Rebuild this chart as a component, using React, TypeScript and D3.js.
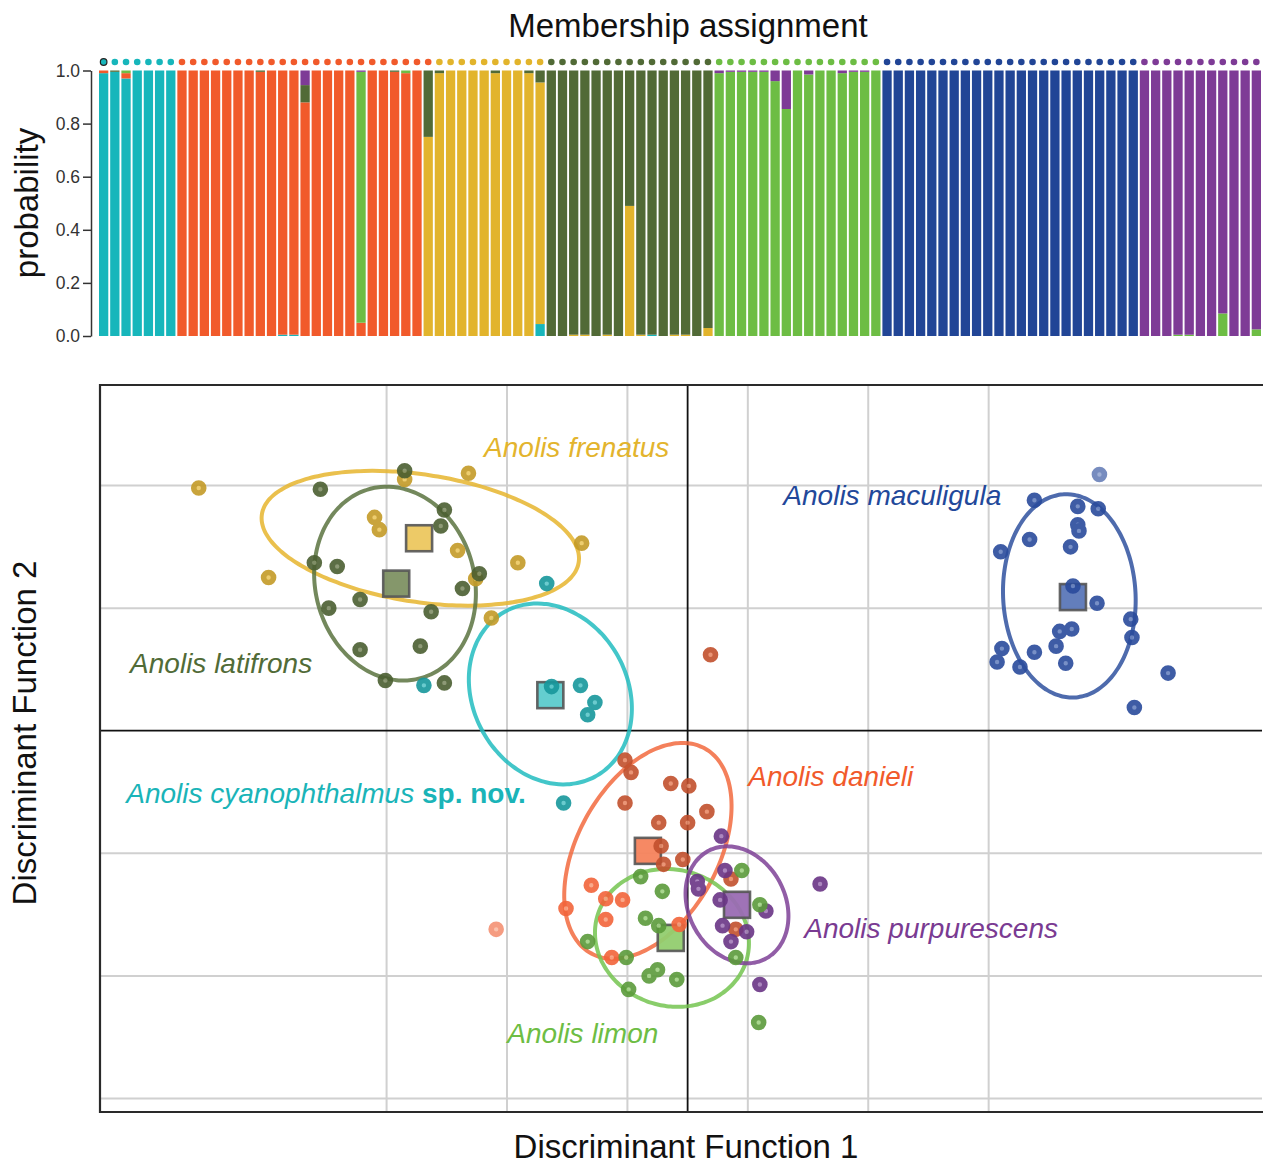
import * as d3 from "d3";
import { useEffect, useRef } from "react";

// ---------- membership assignment (top panel) ----------
// cluster order: cyanophthalmus, danieli, frenatus, latifrons, limon, maculigula, purpurescens
const clusterNames = ["cyanophthalmus", "danieli", "frenatus", "latifrons", "limon", "maculigula", "purpurescens"];
const clusterColors = ["#17b6bb", "#f15a2b", "#e2b42c", "#516a36", "#6dbd44", "#214596", "#7e3b96"];

// posterior probabilities of each individual, grouped by the species it was sampled as
const cyanophthalmusProbs = [
  [0.99, 0.01, 0, 0, 0, 0, 0], [0.995, 0, 0, 0.005, 0, 0, 0], [0.97, 0.02, 0, 0, 0.01, 0, 0],
  [1, 0, 0, 0, 0, 0, 0], [1, 0, 0, 0, 0, 0, 0], [1, 0, 0, 0, 0, 0, 0], [1, 0, 0, 0, 0, 0, 0],
];
const danieliProbs = [
  [0, 1, 0, 0, 0, 0, 0], [0, 1, 0, 0, 0, 0, 0], [0, 1, 0, 0, 0, 0, 0], [0, 1, 0, 0, 0, 0, 0],
  [0, 1, 0, 0, 0, 0, 0], [0, 1, 0, 0, 0, 0, 0], [0, 1, 0, 0, 0, 0, 0], [0, 0.995, 0, 0.005, 0, 0, 0],
  [0, 1, 0, 0, 0, 0, 0], [0.005, 0.995, 0, 0, 0, 0, 0], [0.005, 0.995, 0, 0, 0, 0, 0],
  [0, 0.88, 0, 0.065, 0, 0, 0.055],
  [0, 1, 0, 0, 0, 0, 0], [0, 1, 0, 0, 0, 0, 0], [0, 1, 0, 0, 0, 0, 0], [0, 1, 0, 0, 0, 0, 0],
  [0, 0.05, 0, 0, 0.945, 0, 0.005],
  [0, 1, 0, 0, 0, 0, 0], [0, 1, 0, 0, 0, 0, 0], [0, 0.995, 0, 0.005, 0, 0, 0],
  [0, 0.99, 0, 0, 0.01, 0, 0], [0, 1, 0, 0, 0, 0, 0],
  [0, 0, 0.75, 0.25, 0, 0, 0],
];
const frenatusProbs = [
  [0, 0, 0.99, 0.01, 0, 0, 0], [0, 0, 1, 0, 0, 0, 0], [0, 0, 1, 0, 0, 0, 0], [0, 0, 1, 0, 0, 0, 0],
  [0, 0, 1, 0, 0, 0, 0], [0, 0, 0.99, 0.01, 0, 0, 0], [0, 0, 1, 0, 0, 0, 0], [0, 0, 1, 0, 0, 0, 0],
  [0, 0, 0.99, 0.01, 0, 0, 0], [0.045, 0, 0.91, 0.045, 0, 0, 0],
];
const latifronsProbs = [
  [0, 0, 0, 1, 0, 0, 0], [0, 0, 0, 1, 0, 0, 0], [0, 0, 0.005, 0.995, 0, 0, 0], [0, 0, 0.005, 0.995, 0, 0, 0],
  [0, 0, 0, 1, 0, 0, 0], [0, 0, 0.005, 0.995, 0, 0, 0], [0, 0, 0, 1, 0, 0, 0],
  [0, 0, 0.49, 0.51, 0, 0, 0],
  [0, 0, 0.005, 0.995, 0, 0, 0], [0.005, 0, 0, 0.995, 0, 0, 0], [0, 0, 0, 1, 0, 0, 0],
  [0, 0, 0.005, 0.995, 0, 0, 0], [0, 0, 0.005, 0.995, 0, 0, 0], [0, 0, 0, 1, 0, 0, 0],
  [0, 0, 0.03, 0.97, 0, 0, 0],
];
const limonProbs = [
  [0, 0, 0, 0, 0.99, 0, 0.01], [0, 0, 0, 0, 0.995, 0, 0.005], [0, 0, 0, 0, 0.995, 0, 0.005],
  [0, 0, 0, 0, 0.995, 0, 0.005], [0, 0, 0, 0, 0.995, 0, 0.005],
  [0, 0, 0, 0, 0.96, 0, 0.04], [0, 0, 0, 0, 0.855, 0, 0.145],
  [0, 0, 0, 0, 1, 0, 0], [0, 0, 0, 0, 0.985, 0, 0.015], [0, 0, 0, 0, 1, 0, 0],
  [0, 0, 0, 0, 1, 0, 0], [0, 0, 0, 0, 0.99, 0, 0.01], [0, 0, 0, 0, 0.995, 0, 0.005],
  [0, 0, 0, 0, 0.995, 0, 0.005], [0, 0, 0, 0, 1, 0, 0],
];
const maculigulaProbs = [
  [0, 0, 0, 0, 0, 1, 0], [0, 0, 0, 0, 0, 1, 0], [0, 0, 0, 0, 0, 1, 0], [0, 0, 0, 0, 0, 1, 0],
  [0, 0, 0, 0, 0, 1, 0], [0, 0, 0, 0, 0, 1, 0], [0, 0, 0, 0, 0, 1, 0], [0, 0, 0, 0, 0, 1, 0],
  [0, 0, 0, 0, 0, 1, 0], [0, 0, 0, 0, 0, 1, 0], [0, 0, 0, 0, 0, 1, 0], [0, 0, 0, 0, 0, 1, 0],
  [0, 0, 0, 0, 0, 1, 0], [0, 0, 0, 0, 0, 1, 0], [0, 0, 0, 0, 0, 1, 0], [0, 0, 0, 0, 0, 1, 0],
  [0, 0, 0, 0, 0, 1, 0], [0, 0, 0, 0, 0, 1, 0], [0, 0, 0, 0, 0, 1, 0], [0, 0, 0, 0, 0, 1, 0],
  [0, 0, 0, 0, 0, 1, 0], [0, 0, 0, 0, 0, 1, 0], [0, 0, 0, 0, 0, 1, 0],
];
const purpurescensProbs = [
  [0, 0, 0, 0, 0, 0, 1], [0, 0, 0, 0, 0, 0, 1], [0, 0, 0, 0, 0, 0, 1],
  [0, 0, 0, 0, 0.005, 0, 0.995], [0, 0, 0, 0, 0.005, 0, 0.995],
  [0, 0, 0, 0, 0, 0, 1], [0, 0, 0, 0, 0, 0, 1],
  [0, 0, 0, 0, 0.085, 0, 0.915],
  [0, 0, 0, 0, 0, 0, 1], [0, 0, 0, 0, 0, 0, 1],
  [0, 0, 0, 0, 0.025, 0, 0.975],
];
const probabilityTicks = [0, 0.2, 0.4, 0.6, 0.8, 1.0];

// ---------- discriminant analysis (bottom panel) ----------
const frenatusPts = [[-4.06, 1.98], [-2.35, 2.05], [-1.82, 2.1], [-2.6, 1.74], [-2.56, 1.64], [-1.91, 1.47], [-1.41, 1.37], [-0.88, 1.53], [-3.48, 1.25], [-1.76, 1.24], [-1.63, 0.92]];
const latifronsPts = [[-2.35, 2.12], [-3.05, 1.97], [-2.02, 1.8], [-2.05, 1.67], [-3.1, 1.37], [-2.91, 1.34], [-1.73, 1.28], [-1.87, 1.16], [-2.72, 1.07], [-2.98, 1.0], [-2.13, 0.97], [-2.72, 0.66], [-2.22, 0.69], [-2.51, 0.41], [-2.02, 0.39]];
const cyanophthalmusPts = [[-1.17, 1.2], [-2.19, 0.37], [-1.13, 0.36], [-0.89, 0.37], [-0.77, 0.23], [-0.83, 0.13], [-1.03, -0.59]];
const maculigulaPts = [[3.42, 2.09], [2.88, 1.88], [3.24, 1.83], [3.41, 1.81], [3.24, 1.68], [3.25, 1.63], [2.84, 1.56], [3.18, 1.5], [2.6, 1.46], [3.2, 1.18], [3.4, 1.04], [3.68, 0.91], [3.09, 0.81], [3.19, 0.83], [3.69, 0.76], [3.06, 0.69], [2.61, 0.67], [2.88, 0.64], [2.57, 0.56], [3.14, 0.55], [2.76, 0.52], [3.99, 0.47], [3.71, 0.19]];
const danieliPts = [[-0.52, -0.24], [-0.47, -0.34], [-0.14, -0.43], [0.01, -0.45], [-0.52, -0.59], [0.16, -0.66], [-0.24, -0.75], [0.0, -0.75], [-0.22, -0.94], [-0.04, -1.05], [-0.2, -1.09], [0.36, -1.21], [0.4, -1.62], [0.19, 0.62]];
const danieliPts2 = [[-0.8, -1.26], [-0.68, -1.37], [-0.54, -1.38], [-1.01, -1.45], [-0.68, -1.54], [-0.07, -1.58], [-0.63, -1.85], [-1.59, -1.62]];
const limonPts = [[-0.39, -1.19], [-0.21, -1.31], [0.45, -1.14], [0.6, -1.42], [-0.35, -1.53], [-0.24, -1.59], [-0.83, -1.72], [-0.51, -1.85], [-0.25, -1.95], [-0.32, -2.0], [-0.09, -2.03], [-0.49, -2.11], [0.4, -1.85], [0.59, -2.38]];
const purpurescensPts = [[0.28, -0.86], [0.31, -1.14], [0.08, -1.23], [0.09, -1.29], [0.27, -1.38], [0.65, -1.47], [0.29, -1.59], [0.49, -1.64], [0.36, -1.72], [1.1, -1.25], [0.6, -2.07]];

// group centroids [x, y]
const centroids = {
  frenatus: [-2.23, 1.57], latifrons: [-2.42, 1.2], cyanophthalmus: [-1.14, 0.29], maculigula: [3.2, 1.09],
  danieli: [-0.33, -0.98], limon: [-0.14, -1.69], purpurescens: [0.41, -1.42],
};
// confidence ellipses [cx, cy, semi-major, semi-minor, angle in degrees]
const ellipses = {
  frenatus: [-2.22, 1.57, 1.33, 0.52, -8.4], latifrons: [-2.43, 1.2, 0.8, 0.66, -74],
  cyanophthalmus: [-1.14, 0.3, 0.77, 0.64, -59], maculigula: [3.17, 1.1, 0.83, 0.55, -87],
  danieli: [-0.33, -0.98, 0.96, 0.58, 60], limon: [-0.13, -1.69, 0.645, 0.556, -15],
  purpurescens: [0.41, -1.42, 0.5, 0.4, -60],
};
const xGridTicks = [-2.5, -1.5, -0.5, 0.5, 1.5, 2.5];
const yGridTicks = [2, 1, -1, -2, -3];

const FONT = "'Liberation Sans', Arial, Helvetica, sans-serif";

const pointStyle = {
  frenatus: { stroke: "#c49b27", fill: "#ecc860" },
  latifrons: { stroke: "#4b5f31", fill: "#818f68" },
  cyanophthalmus: { stroke: "#17979c", fill: "#5cc6c9" },
  maculigula: { stroke: "#2a4b9c", fill: "#6a84c0" },
  danieli: { stroke: "#c2502d", fill: "#e88a68" },
  danieli2: { stroke: "#f2643a", fill: "#f9a07f" },
  limon: { stroke: "#5b9b3b", fill: "#a0d283" },
  purpurescens: { stroke: "#6a3586", fill: "#a27ab8" },
};
const groupStyle = {
  frenatus: { line: "#e6b52e", box: "#ecc75f" },
  latifrons: { line: "#5a7340", box: "#7e9163" },
  cyanophthalmus: { line: "#22bcc0", box: "#5ccbcc" },
  maculigula: { line: "#2f519f", box: "#5b77b8" },
  danieli: { line: "#f26a3e", box: "#f5835c" },
  limon: { line: "#74c450", box: "#92cd6f" },
  purpurescens: { line: "#7e4196", box: "#9a6cb3" },
};

const App = () => {
  const width = 1263,
    height = 1165;

  // ---- top panel ----
  const groups = [
    cyanophthalmusProbs, danieliProbs, frenatusProbs, latifronsProbs, limonProbs, maculigulaProbs, purpurescensProbs,
  ];
  const individuals = groups.flatMap((g, gi) => g.map((p) => ({ group: gi, p })));
  const bx = d3
    .scaleBand()
    .domain(d3.range(individuals.length))
    .range([99, 1261])
    .paddingInner(0.17);
  const by = d3.scaleLinear([0, 1], [336, 70.5]);
  const series = d3
    .stack()
    .keys(d3.range(clusterNames.length))
    .value((d, k) => d.p[k])(individuals);

  const gy = useRef();
  useEffect(() => {
    const g = d3.select(gy.current);
    g.call(
      d3
        .axisLeft(by)
        .tickValues(probabilityTicks)
        .tickFormat(d3.format(".1f"))
        .tickSize(8)
        .tickSizeOuter(0)
        .tickPadding(3),
    );
    g.attr("font-family", FONT).attr("font-size", 17.5);
    g.selectAll("text").attr("fill", "#333");
    g.selectAll("line").attr("stroke", "#333").attr("stroke-width", 1.5);
    g.select(".domain").attr("stroke", "#333").attr("stroke-width", 1.5);
  }, [by]);

  // ---- bottom panel ----
  const x = d3.scaleLinear([-4.88, 4.77], [100, 1262]);
  const y = d3.scaleLinear([-3.11, 2.82], [1112, 385]);
  const ellipsePath = ([cx, cy, a, b, deg]) => {
    const phi = (deg * Math.PI) / 180;
    const pts = d3.range(0, 360, 3).map((t) => {
      const r = (t * Math.PI) / 180;
      const ex = a * Math.cos(r),
        ey = b * Math.sin(r);
      return [cx + ex * Math.cos(phi) - ey * Math.sin(phi), cy + ex * Math.sin(phi) + ey * Math.cos(phi)];
    });
    return d3
      .line()
      .x((d) => x(d[0]))
      .y((d) => y(d[1]))
      .curve(d3.curveCardinalClosed)(pts);
  };

  const pointSets = [
    ["frenatus", frenatusPts],
    ["latifrons", latifronsPts],
    ["cyanophthalmus", cyanophthalmusPts],
    ["maculigula", maculigulaPts],
    ["danieli", danieliPts],
    ["danieli2", danieliPts2],
    ["purpurescens", purpurescensPts],
    ["limon", limonPts],
  ];

  const labels = [
    { text: "Anolis frenatus", key: "frenatus", at: [-1.69, 2.235], color: "#e3b42d" },
    { text: "Anolis maculigula", key: "maculigula", at: [0.795, 1.843], color: "#22489a" },
    { text: "Anolis latifrons", key: "latifrons", at: [-4.63, 0.473], color: "#516b37" },
    { text: "Anolis danieli", key: "danieli", at: [0.504, -0.449], color: "#f15a2b" },
    { text: "Anolis purpurescens", key: "purpurescens", at: [0.969, -1.688], color: "#7a3b92" },
    { text: "Anolis limon", key: "limon", at: [-1.497, -2.545], color: "#6dbd44" },
  ];
  const boxSize = 26;

  return (
    <svg width={width} height={height} style={{ position: "absolute", left: 0, top: 0, background: "#fff" }} fontFamily={FONT}>
      {/* ---------------- top panel ---------------- */}
      <text x={688} y={37} textAnchor="middle" fontSize={33} fill="#111">
        Membership assignment
      </text>
      <text transform="translate(38,203) rotate(-90)" textAnchor="middle" fontSize={33} fill="#111">
        probability
      </text>
      <g ref={gy} transform="translate(91,0)" />
      <g>
        {series.map((s, k) => (
          <g key={k} fill={clusterColors[k]}>
            {s.map((d, i) =>
              d[1] - d[0] > 0 ? (
                <rect
                  key={i}
                  x={bx(i)}
                  width={bx.bandwidth()}
                  y={by(d[1])}
                  height={Math.max(0.6, by(d[0]) - by(d[1]))}
                />
              ) : null,
            )}
          </g>
        ))}
      </g>
      <g>
        {individuals.map((d, i) => (
          <circle
            key={i}
            cx={bx(i) + bx.bandwidth() / 2}
            cy={62}
            r={3.3}
            fill={clusterColors[d.group]}
            stroke={i === 0 ? "#222" : "none"}
            strokeWidth={1.2}
          />
        ))}
      </g>

      {/* ---------------- bottom panel ---------------- */}
      <g stroke="#d0d0d0" strokeWidth={2}>
        {xGridTicks.map((t) => (
          <line key={"gx" + t} x1={x(t)} x2={x(t)} y1={385} y2={1112} />
        ))}
        {yGridTicks.map((t) => (
          <line key={"gy" + t} x1={100} x2={1262} y1={y(t)} y2={y(t)} />
        ))}
      </g>
      <g stroke="#111" strokeWidth={1.8}>
        <line x1={x(0)} x2={x(0)} y1={385} y2={1112} />
        <line x1={100} x2={1262} y1={y(0)} y2={y(0)} />
      </g>
      <g stroke="#2a2a2a" strokeWidth={2.2} fill="none">
        <path d={`M1263,385 H100 V1112 H1263`} />
      </g>

      <g fill="none" strokeWidth={4} strokeOpacity={0.85}>
        {Object.entries(ellipses).map(([k, e]) => (
          <path key={k} d={ellipsePath(e)} stroke={groupStyle[k].line} />
        ))}
      </g>

      <g>
        {Object.entries(centroids).map(([k, c]) => (
          <rect
            key={k}
            x={x(c[0]) - boxSize / 2}
            y={y(c[1]) - boxSize / 2}
            width={boxSize}
            height={boxSize}
            fill={groupStyle[k].box}
            fillOpacity={0.95}
            stroke="#555"
            strokeOpacity={0.9}
            strokeWidth={2.6}
          />
        ))}
      </g>

      <g>
        {pointSets.map(([k, pts]) => (
          <g key={k} opacity={0.9}>
            {pts.map((p, i) => (
              <circle
                key={i}
                cx={x(p[0])}
                cy={y(p[1])}
                r={5}
                fill={pointStyle[k].fill}
                stroke={pointStyle[k].stroke}
                strokeWidth={5.6}
                opacity={(k === "maculigula" && i === 0) || (k === "danieli2" && i === 7) ? 0.7 : 1}
              />
            ))}
          </g>
        ))}
      </g>

      <g fontSize={28} fontStyle="italic">
        {labels.map((l) => (
          <text key={l.key} x={x(l.at[0])} y={y(l.at[1])} fill={l.color}>
            {l.text}
          </text>
        ))}
        <text x={x(-4.662)} y={y(-0.587)} fill="#1ab4b8">
          Anolis cyanophthalmus{" "}
          <tspan fontStyle="normal" fontWeight="bold">
            sp. nov.
          </tspan>
        </text>
      </g>

      <text x={686} y={1158} textAnchor="middle" fontSize={33} fill="#111">
        Discriminant Function 1
      </text>
      <text transform="translate(36,733) rotate(-90)" textAnchor="middle" fontSize={33} fill="#111">
        Discriminant Function 2
      </text>
    </svg>
  );
};

export default App;
